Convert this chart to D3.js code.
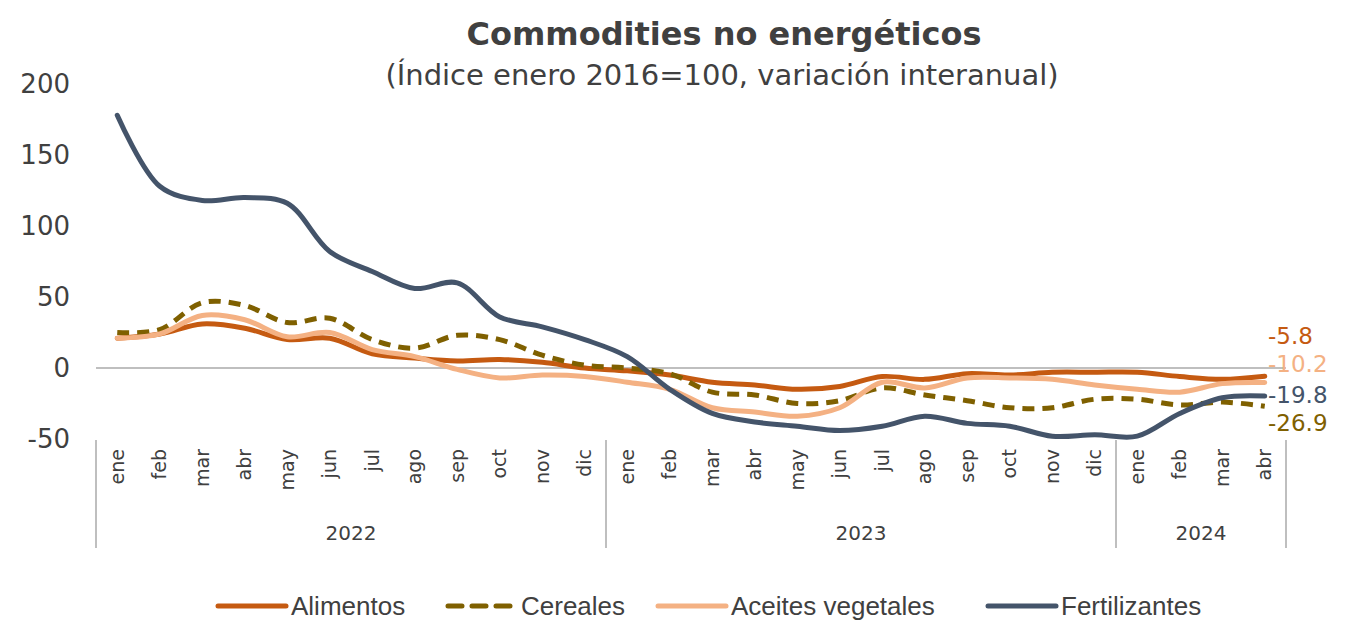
<!DOCTYPE html>
<html>
<head>
<meta charset="utf-8">
<script src="https://cdn.jsdelivr.net/npm/d3@7"></script>
<style>
  body { margin: 0; background: #fff; }
  text { font-family: "DejaVu Sans", sans-serif; fill: #404040; }
  .legend text { font-family: "Liberation Sans", sans-serif; }
</style>
</head>
<body>
<script>
const width = 1348;
const height = 623;

// Data
const months = ['ene','feb','mar','abr','may','jun','jul','ago','sep','oct','nov','dic',
  'ene','feb','mar','abr','may','jun','jul','ago','sep','oct','nov','dic',
  'ene','feb','mar','abr'];
const years = [
  { label: '2022', count: 12 },
  { label: '2023', count: 12 },
  { label: '2024', count: 4 }
];
const yTicks = [-50, 0, 50, 100, 150, 200];

const alimentos = [21, 24, 31, 28, 20, 21, 10, 7, 5, 6, 4, 0,
  -2, -5, -10, -12, -15, -13, -6, -8, -4, -5, -3, -3,
  -3, -6, -8, -5.8];
const cereales = [25, 27, 46, 44, 32, 35, 20, 14, 23, 20, 9, 2,
  0, -4, -17, -19, -25, -23, -14, -19, -23, -28, -28, -22,
  -22, -26, -24, -26.9];
const aceites = [21, 24, 37, 34, 22, 25, 13, 8, -1, -7, -5, -6,
  -10, -15, -28, -31, -34, -28, -10, -14, -7, -7, -8, -12,
  -15, -17, -11, -10.2];
const fertilizantes = [178, 128, 118, 120, 116, 82, 68, 56, 60, 36, 29, 20,
  8, -15, -32, -38, -41, -44, -41, -34, -39, -41, -48, -47,
  -48, -32, -21, -19.8];

const series = [
  { name: 'Alimentos', values: alimentos, color: '#C55A11', dash: null, label: '-5.8', ly: 336 },
  { name: 'Cereales', values: cereales, color: '#7F6000', dash: '12,8', label: '-26.9', ly: 423 },
  { name: 'Aceites vegetales', values: aceites, color: '#F4B183', dash: null, label: '-10.2', ly: 364 },
  { name: 'Fertilizantes', values: fertilizantes, color: '#44546A', dash: null, label: '-19.8', ly: 395 }
];

const svg = d3.select('body')
  .append('svg')
  .attr('width', width)
  .attr('height', height);

// Scales
const x = d3.scaleBand()
  .domain(d3.range(months.length))
  .range([96, 1286]);
const y = d3.scaleLinear()
  .domain([-50, 200])
  .range([439, 84]);
const cx = i => x(i) + x.bandwidth() / 2;

// Title
svg.append('text')
  .attr('x', 724).attr('y', 45)
  .attr('text-anchor', 'middle')
  .style('font-size', '32px').style('font-weight', 'bold')
  .text('Commodities no energéticos');
svg.append('text')
  .attr('x', 722).attr('y', 85)
  .attr('text-anchor', 'middle')
  .style('font-size', '29px')
  .text('(Índice enero 2016=100, variación interanual)');

// Y axis labels
svg.append('g')
  .selectAll('text')
  .data(yTicks)
  .enter()
  .append('text')
  .attr('x', 70)
  .attr('y', d => y(d))
  .attr('dy', '0.35em')
  .attr('text-anchor', 'end')
  .style('font-size', '26px')
  .text(d => d);

// Zero line
svg.append('line')
  .attr('x1', 96).attr('x2', 1286)
  .attr('y1', y(0)).attr('y2', y(0))
  .style('stroke', '#BFBFBF')
  .style('stroke-width', 2);

// Month labels
svg.append('g')
  .selectAll('text')
  .data(months)
  .enter()
  .append('text')
  .attr('transform', (d, i) => `translate(${cx(i)},449) rotate(-90)`)
  .attr('dy', '0.35em')
  .attr('text-anchor', 'end')
  .style('font-size', '19px')
  .text(d => d);

// Year groups
let start = 0;
const bounds = [x(0)];
years.forEach(yr => {
  const x0 = x(start);
  const x1 = x(start + yr.count - 1) + x.bandwidth();
  svg.append('text')
    .attr('x', (x0 + x1) / 2)
    .attr('y', 540)
    .attr('text-anchor', 'middle')
    .style('font-size', '20px')
    .text(yr.label);
  bounds.push(x1);
  start += yr.count;
});
svg.append('g')
  .selectAll('line')
  .data(bounds)
  .enter()
  .append('line')
  .attr('x1', d => d).attr('x2', d => d)
  .attr('y1', 440).attr('y2', 548)
  .style('stroke', '#BFBFBF')
  .style('stroke-width', 2);

// Lines
const line = d3.line()
  .x((d, i) => cx(i))
  .y(d => y(d))
  .curve(d3.curveCatmullRom.alpha(0.5));

svg.append('g')
  .selectAll('path')
  .data(series)
  .enter()
  .append('path')
  .attr('d', d => line(d.values))
  .style('fill', 'none')
  .style('stroke', d => d.color)
  .style('stroke-width', 5)
  .style('stroke-linecap', d => d.dash ? 'butt' : 'round')
  .style('stroke-dasharray', d => d.dash);

// End labels
svg.append('g')
  .selectAll('text')
  .data(series)
  .enter()
  .append('text')
  .attr('x', 1268)
  .attr('y', d => d.ly)
  .attr('dy', '0.35em')
  .style('font-size', '23px')
  .style('fill', d => d.color)
  .text(d => d.label);

// Legend
const legendX = [216, 446, 656, 986];
const legend = svg.append('g')
  .attr('class', 'legend')
  .selectAll('g')
  .data(series)
  .enter()
  .append('g')
  .attr('transform', (d, i) => `translate(${legendX[i]},606)`);
legend.append('line')
  .attr('x1', 2).attr('x2', d => d.dash ? 64 : 70)
  .attr('y1', 0).attr('y2', 0)
  .style('stroke', d => d.color)
  .style('stroke-width', 5)
  .style('stroke-linecap', 'round')
  .style('stroke-dasharray', d => d.dash ? '14,10' : null);
legend.append('text')
  .attr('x', 75)
  .attr('dy', '0.35em')
  .style('font-size', '26px')
  .text(d => d.name);
</script>
</body>
</html>
